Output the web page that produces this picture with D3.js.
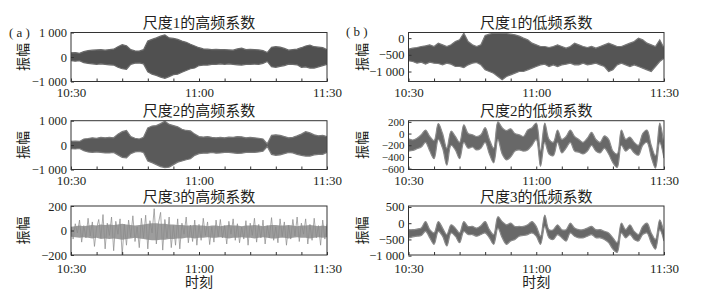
<!DOCTYPE html>
<html><head><meta charset="utf-8">
<script src="https://cdn.jsdelivr.net/npm/d3@7/dist/d3.min.js"></script>
<style>body{margin:0;background:#fff}svg{display:block}text{fill:#231f20;font-family:"Liberation Serif","Noto Sans CJK SC",serif}</style>
</head><body><svg id="c" width="704" height="302"></svg>
<script>
// ---- data (minutes after 10:30, one sample per minute, envelope of dense signals) ----
const minutes = [0,1,2,3,4,5,6,7,8,9,10,11,12,13,14,15,16,17,18,19,20,21,22,23,24,25,26,27,28,29,30,31,32,33,34,35,36,37,38,39,40,41,42,43,44,45,46,47,48,49,50,51,52,53,54,55,56,57,58,59,60];
const minorTicks = [0,6,12,18,24,30,36,42,48,54,60];
const timeTicks = [0,30,60];
const timeTickLabels = ["10:30","11:00","11:30"];
const panelTitles = ["尺度1的高频系数","尺度2的高频系数","尺度3的高频系数","尺度1的低频系数","尺度2的低频系数","尺度3的低频系数"];
const panelLetters = ["( a )","( b )"];
const yLabel = "振幅";
const xLabel = "时刻";

const high1Upper = [170,180,150,220,260,280,290,300,280,300, 320,420,500,460,300,250,240,300,650,720, 780,850,900,780,760,720,650,600,520,450, 380,330,320,300,310,300,300,290,280,330, 360,300,310,300,290,260,180,400,420,400, 350,280,300,320,380,450,480,420,400,380,300];
const high1Lower = [-150,-170,-150,-230,-260,-280,-300,-280,-300,-320, -330,-420,-480,-500,-300,-250,-240,-280,-600,-700, -750,-820,-870,-800,-720,-700,-620,-550,-480,-450, -350,-330,-330,-300,-300,-280,-300,-280,-300,-320, -330,-300,-300,-290,-300,-260,-180,-400,-420,-380, -350,-290,-300,-320,-420,-400,-450,-450,-400,-350,-300];

const high2Upper = [150,160,150,250,270,300,280,320,300,320, 300,450,550,600,350,280,250,320,700,780, 800,880,980,850,800,750,650,600,580,450, 350,330,350,320,300,320,300,330,320,350, 340,300,320,300,280,250,50,400,420,400, 350,300,320,380,450,550,500,420,380,400,350];
const high2Lower = [-150,-160,-140,-230,-280,-300,-280,-300,-320,-320, -300,-400,-500,-520,-350,-280,-260,-300,-650,-720, -800,-880,-920,-900,-800,-700,-650,-600,-560,-420, -350,-330,-330,-300,-330,-320,-300,-300,-320,-340, -330,-300,-300,-300,-280,-250,-60,-380,-420,-400, -350,-300,-320,-380,-420,-450,-450,-400,-380,-380,-300];

const high3CoreUpper = [30,35,40,35,40,45,40,50,45,50, 45,50,55,50,45,40,45,50,55,60, 60,55,55,50,50,45,45,40,40,45, 40,40,35,40,40,35,40,45,40,40, 35,40,40,45,40,35,40,45,45,40, 40,45,40,35,40,40,45,40,35,40,35];
const high3CoreLower = [-50,-55,-60,-55,-60,-65,-60,-70,-65,-70, -65,-70,-75,-70,-65,-60,-65,-70,-75,-80, -80,-75,-75,-70,-70,-65,-65,-60,-60,-65, -60,-60,-55,-60,-60,-55,-60,-65,-60,-60, -55,-60,-60,-65,-60,-55,-60,-65,-65,-60, -60,-65,-60,-55,-60,-60,-65,-60,-55,-60,-55];
// half-minute spike values of scale-3 high-frequency coefficients
const high3Spikes = [30,-70,55,-20,85,-95,40,-60,100,-45, 70,-130,20,90,-60,130,-150,60,-40,110, -165,75,-30,95,-200,50,-120,85,-55,120, -90,30,-140,100,-60,125,-150,80,-20,178, -110,60,148,-160,90,-60,110,-140,40,-120, 95,-150,60,-30,110,-100,45,-90,85,-120, 50,-80,100,-40,70,-115,30,-95,85,-50, 90,-60,40,-110,75,-30,95,-80,55,-100, 30,-70,80,-120,60,-40,100,-95,50,-60, 85,-110,40,-60,105,-80,30,-100,95,-50, 70,-120,40,-70,90,-45,110,-90,60,-30, 95,-110,50,-80,100,-60,40,-120,85,-70,50];

const low1Upper = [-330,-300,-280,-250,-230,-200,-250,-150,-200,-250, -200,-100,-50,150,-100,-200,-250,-200,80,120, 150,150,150,140,120,100,60,0,-50,-150, -200,-250,-250,-280,-250,-200,-250,-300,-250,-150, -200,-250,-280,-250,-300,-250,-200,-150,-200,-250, -250,-200,-150,-100,0,-50,-150,-200,-250,-50,-300];
const low1Lower = [-680,-700,-750,-720,-780,-720,-750,-760,-800,-750, -780,-850,-850,-880,-800,-750,-730,-800,-950,-1000, -1050,-1150,-1250,-1150,-1100,-1050,-1000,-1000,-950,-900, -850,-800,-780,-850,-800,-850,-800,-780,-750,-800, -800,-750,-800,-780,-750,-800,-850,-1000,-950,-800, -750,-800,-850,-800,-850,-900,-950,-1000,-850,-700,-600];

const low2Upper = [-90,-110,-80,-20,60,-50,-120,170,0,-250, 40,-50,-150,150,0,-20,-50,-20,100,-100, -250,200,100,50,80,0,-20,-50,60,100, 180,-300,180,-100,-150,60,-100,-50,60,-50, -100,-150,-80,20,-100,-150,-40,-100,-300,-350, 60,-100,-60,-150,-200,0,60,-200,-380,180,-200];
const low2Lower = [-300,-290,-260,-230,-150,-300,-430,-100,-250,-540, -200,-280,-430,-150,-250,-230,-280,-250,-150,-350, -500,-100,-350,-450,-400,-300,-280,-300,-280,-200, -100,-560,-150,-350,-380,-150,-330,-250,-150,-300, -320,-350,-300,-200,-300,-330,-250,-350,-500,-580, -200,-300,-250,-330,-370,-200,-150,-400,-590,-150,-420];

const low3Upper = [-200,-200,-180,-150,50,-200,-300,50,-150,-350, -50,-150,-300,50,-100,-100,-150,-80,50,-200, -350,200,50,-50,0,-100,-100,-100,-50,50, -100,-400,250,-200,-200,-50,-200,-200,0,-150, -200,-200,-150,-100,-200,-200,-250,-300,-450,-600, 0,-200,-50,-250,-350,-100,0,-300,-500,100,-300];
const low3Lower = [-450,-420,-400,-380,-250,-450,-650,-250,-400,-700, -300,-400,-600,-250,-350,-350,-400,-350,-300,-450, -650,-150,-450,-650,-550,-500,-400,-380,-350,-300, -400,-650,-100,-450,-500,-350,-450,-550,-300,-400, -450,-450,-400,-350,-450,-450,-500,-600,-800,-900, -300,-450,-350,-500,-550,-350,-300,-600,-800,-200,-550];

const yTicksH1 = [1000,0,-1000], yTicksH2 = [1000,0,-1000], yTicksH3 = [200,0,-200];
const yTicksL1 = [0,-500,-1000], yTicksL2 = [200,0,-200,-400,-600], yTicksL3 = [500,0,-500,-1000];

// ---- layout ----
const svg = d3.select("#c");
const cols = [{x0:71,x1:327,ylab:23},{x0:408.5,x1:664,ylab:362}];
const rows = [{y0:32.5,y1:81.5,pad:6.5},{y0:120.7,y1:169.5,pad:6.5},{y0:206,y1:255,pad:8.8}];
const fmt = d => (d<0?"\u2212":"") + d3.format(",")(Math.abs(d)).replace(/,/g," ");

const panels = [
  {c:0,r:0,title:panelTitles[0],dom:[-1000,1000],ticks:yTicksH1,up:high1Upper,lo:high1Lower,fill:"#505050",edge:"#6a6a6a",curve:d3.curveLinear,fs:12.5},
  {c:0,r:1,title:panelTitles[1],dom:[-1000,1000],ticks:yTicksH2,up:high2Upper,lo:high2Lower,fill:"#5a5a5a",edge:"#7a7a7a",curve:d3.curveLinear,fs:12.5},
  {c:0,r:2,title:panelTitles[2],dom:[-200,200],ticks:yTicksH3,up:high3CoreUpper,lo:high3CoreLower,fill:"#5c5c5c",edge:"none",spikes:high3Spikes,curve:d3.curveLinear,fs:12.5},
  {c:1,r:0,title:panelTitles[3],dom:[-1300,170],ticks:yTicksL1,up:low1Upper,lo:low1Lower,fill:"#555",edge:"#777",curve:d3.curveLinear,fs:12.5},
  {c:1,r:1,title:panelTitles[4],dom:[-615,220],ticks:yTicksL2,up:low2Upper,lo:low2Lower,fill:"#686868",edge:"#8a8a8a",curve:d3.curveCatmullRom.alpha(0.5),fs:11},
  {c:1,r:2,title:panelTitles[5],dom:[-980,530],ticks:yTicksL3,up:low3Upper,lo:low3Lower,fill:"#686868",edge:"#8a8a8a",curve:d3.curveCatmullRom.alpha(0.5),fs:12.5}
];

panels.forEach((p,i)=>{
  const C = cols[p.c], R = rows[p.r];
  const x = d3.scaleLinear().domain([0,60]).range([C.x0,C.x1]);
  const y = d3.scaleLinear().domain(p.dom).range([R.y1,R.y0]);
  const id = "clip"+i;
  svg.append("clipPath").attr("id",id).append("rect")
    .attr("x",C.x0).attr("y",R.y0).attr("width",C.x1-C.x0).attr("height",R.y1-R.y0);
  const g = svg.append("g").attr("clip-path",`url(#${id})`);
  const area = d3.area().curve(p.curve).x((d,j)=>x(minutes[j])).y0((d,j)=>y(p.lo[j])).y1((d,j)=>y(p.up[j]));
  g.append("path").datum(p.up).attr("d",area)
    .attr("fill",p.fill).attr("fill-opacity",p.spikes?0.6:1)
    .attr("stroke",p.edge).attr("stroke-width",1.2);
  if (p.spikes){
    const xs = d3.scaleLinear().domain([0,p.spikes.length-1]).range([C.x0,C.x1]);
    g.append("path").datum(p.spikes)
      .attr("d", d3.line().x((d,j)=>xs(j)).y(d=>y(d)))
      .attr("fill","none").attr("stroke","#8a8a8a").attr("stroke-width",0.8).attr("stroke-opacity",0.9);
  }

  // inner ticks bottom
  svg.append("g").attr("transform",`translate(0,${R.y1})`)
    .call(d3.axisBottom(x).tickValues(minorTicks).tickSize(-3).tickFormat(""))
    .call(a=>a.select(".domain").remove())
    .call(a=>a.selectAll("line").attr("stroke","#333"));
  // time labels
  svg.append("g").attr("transform",`translate(0,${R.y1})`)
    .call(d3.axisBottom(x).tickValues(timeTicks).tickSize(0).tickPadding(R.pad)
      .tickFormat((d,j)=>timeTickLabels[j]))
    .call(a=>a.select(".domain").remove())
    .call(a=>a.selectAll("text").attr("font-size",13).attr("font-family",null));
  // y axis
  svg.append("g").attr("transform",`translate(${C.x0},0)`)
    .call(d3.axisLeft(y).tickValues(p.ticks).tickSize(-3).tickPadding(4).tickFormat(fmt))
    .call(a=>a.select(".domain").remove())
    .call(a=>a.selectAll("line").attr("stroke","#333"))
    .call(a=>a.selectAll("text").attr("font-size",p.fs).attr("font-family",null));
  // frame
  svg.append("rect").attr("x",C.x0).attr("y",R.y0).attr("width",C.x1-C.x0).attr("height",R.y1-R.y0)
    .attr("fill","none").attr("stroke","#333").attr("stroke-width",1);
  // title
  svg.append("text").attr("x",(C.x0+C.x1)/2).attr("y",R.y0-4.5).attr("text-anchor","middle")
    .attr("font-size",15).text(p.title);
  // y label
  svg.append("text").attr("transform",`translate(${C.ylab},${(R.y0+R.y1)/2}) rotate(-90)`)
    .attr("text-anchor","middle").attr("dominant-baseline","central")
    .attr("font-size",14).text(yLabel);
});

// panel letters
svg.append("text").attr("x",9).attr("y",36.5).attr("font-size",13).text(panelLetters[0]);
svg.append("text").attr("x",346).attr("y",35.5).attr("font-size",13).text(panelLetters[1]);
// x labels
cols.forEach(C=>{
  svg.append("text").attr("x",(C.x0+C.x1)/2).attr("y",287).attr("text-anchor","middle")
    .attr("font-size",14).text(xLabel);
});
</script></body></html>
